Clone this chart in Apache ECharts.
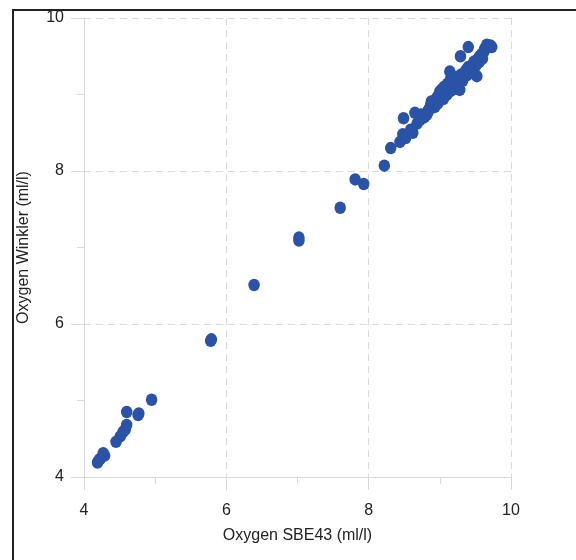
<!DOCTYPE html>
<html>
<head>
<meta charset="utf-8">
<script src="https://cdn.jsdelivr.net/npm/echarts@6/dist/echarts.min.js"></script>
<style>
  html, body { margin: 0; padding: 0; background: #fff; }
  #frame { position: absolute; left: 12px; top: 9px; width: 564px; height: 551px;
           border-left: 2px solid #222; border-top: 2px solid #222; box-sizing: border-box; }
  #chart { position: absolute; left: 0; top: 0; width: 576px; height: 560px; }
</style>
</head>
<body>
<div id="frame"></div>
<div id="chart"></div>
<script>
// Oxygen from the SBE43 sensor (x) against Winkler titration (y), ml/l
const sbe43 = [
  4.19, 4.21, 4.23, 4.27, 4.29, 4.45, 4.51, 4.55, 4.58, 4.60, 4.60, 4.76, 4.77, 4.95,
  5.78, 5.79, 6.39, 7.02, 7.02, 7.60, 7.81, 7.93,
  8.22, 8.31, 8.44, 8.48, 8.49, 8.52, 8.59, 8.62, 8.65, 8.68, 8.72, 8.74, 8.78, 8.81,
  8.84, 8.87, 8.90, 8.92, 8.95, 8.97, 9.00, 9.02, 9.04, 9.06, 9.07, 9.09, 9.11, 9.12,
  9.14, 9.15, 9.17, 9.18, 9.20, 9.22, 9.23, 9.25, 9.26, 9.28, 9.29, 9.30, 9.33, 9.35,
  9.37, 9.40, 9.40, 9.43, 9.45, 9.48, 9.50, 9.52, 9.53, 9.56, 9.59, 9.62, 9.63, 9.66,
  9.68, 9.71, 9.73,
  8.83, 8.88, 8.93, 8.98, 9.03, 9.05, 9.10, 9.16, 9.27, 9.32, 9.38, 9.45, 9.55, 9.60
]
const winkler = [
  4.19, 4.22, 4.24, 4.31, 4.28, 4.46, 4.53, 4.59, 4.62, 4.68, 4.85, 4.81, 4.83, 5.01,
  5.78, 5.80, 6.51, 7.13, 7.09, 7.52, 7.89, 7.83,
  8.07, 8.30, 8.38, 8.48, 8.69, 8.43, 8.54, 8.50, 8.76, 8.62, 8.67, 8.74, 8.70, 8.73,
  8.80, 8.86, 8.83, 8.90, 8.95, 8.88, 9.04, 8.95, 9.00, 9.10, 8.98, 9.06, 9.14, 9.03,
  9.30, 9.20, 9.10, 9.24, 9.15, 9.08, 9.23, 9.18, 9.08, 9.06, 9.50, 9.26, 9.22, 9.28,
  9.32, 9.36, 9.62, 9.30, 9.38, 9.43, 9.37, 9.24, 9.46, 9.50, 9.53, 9.56, 9.60, 9.65,
  9.62, 9.64, 9.62,
  8.76, 8.91, 8.84, 8.99, 9.07, 8.94, 9.00, 9.05, 9.14, 9.18, 9.25, 9.31, 9.42, 9.47
]
const axisMin = 4
const axisMax = 10
const tickStep = 2

const chart = echarts.init(document.getElementById('chart'), null, { renderer: 'canvas' })

const fontFamily = 'Liberation Sans, Arial, Helvetica, sans-serif'
const gridColor = '#d9d9d9'

const axisCommon = {
  type: 'value',
  min: axisMin,
  max: axisMax,
  interval: tickStep,
  nameLocation: 'middle',
  nameTextStyle: { fontFamily, fontSize: 16, color: '#222' },
  axisLine: { show: true, lineStyle: { color: gridColor, width: 1 } },
  axisTick: { show: true, inside: false, length: 13, lineStyle: { color: gridColor } },
  minorTick: { show: true, splitNumber: 2, length: 7, lineStyle: { color: gridColor } },
  splitLine: { show: true, lineStyle: { color: gridColor, type: [7, 5] } },
  axisLabel: { fontFamily, fontSize: 16, color: '#222' }
}

chart.setOption({
  animation: false,
  grid: { left: 84, right: 65, top: 18, bottom: 83 },
  xAxis: Object.assign({}, axisCommon, {
    name: 'Oxygen SBE43 (ml/l)',
    nameGap: 51,
    axisLabel: Object.assign({}, axisCommon.axisLabel, { margin: 26 })
  }),
  yAxis: Object.assign({}, axisCommon, {
    name: 'Oxygen Winkler (ml/l)',
    nameGap: 52,
    axisLabel: Object.assign({}, axisCommon.axisLabel, { margin: 20 })
  }),
  series: [{
    type: 'scatter',
    data: sbe43.map((x, i) => [x, winkler[i]]),
    symbol: 'circle',
    symbolSize: [11.5, 12.5],
    itemStyle: { color: '#2a52a6', opacity: 1 }
  }]
})
</script>
</body>
</html>
